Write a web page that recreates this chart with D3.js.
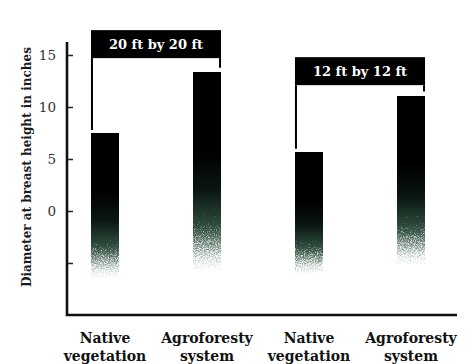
<!DOCTYPE html>
<html><head><meta charset="utf-8">
<script src="https://cdn.jsdelivr.net/npm/d3@7"></script>
<style>body{margin:0;background:#fff}svg{display:block}</style>
</head><body>
<svg id="c" width="465" height="364"></svg>
<script>
const categories = ["Native\nvegetation", "Agroforesty\nsystem", "Native\nvegetation", "Agroforesty\nsystem"];
const barTops = [7.5, 13.4, 5.7, 11.1];
const barBases = [-6.4, -5.6, -6.0, -5.1];
const groupLabels = ["20 ft by 20 ft", "12 ft by 12 ft"];
const groupBars = [[0, 1], [2, 3]];
const groupLevels = [14.7, 12.1];
const yTicks = [15, 10, 5, 0, -5];
const yTickLabels = ["15", "10", "5", "0", ""];
const yTitle = "Diameter at breast height in inches";

const svg = d3.select("#c");
const serif = "'DejaVu Serif', 'Liberation Serif', serif";
const y = d3.scaleLinear().domain([-10, 16.25]).range([315, 42]);
const x = d3.scaleBand().domain(d3.range(categories.length)).range([54, 462]).paddingInner(0.725).paddingOuter(0.3625);

const defs = svg.append("defs");
const g = defs.append("linearGradient").attr("id","fade").attr("x1",0).attr("y1",0).attr("x2",0).attr("y2",1);
[[0,"#000",1],[0.4,"#000",1],[0.6,"#0a1610",0.92],[0.76,"#2a4638",0.72],[0.9,"#5e7a6c",0.5],[1,"#a0b4aa",0.3]].forEach(s=>
  g.append("stop").attr("offset",s[0]).attr("stop-color",s[1]).attr("stop-opacity",s[2]));
const f = defs.append("filter").attr("id","grain").attr("x",0).attr("y",0).attr("width",1).attr("height",1)
  .attr("color-interpolation-filters","sRGB");
f.append("feTurbulence").attr("type","fractalNoise").attr("baseFrequency",0.85).attr("numOctaves",2).attr("seed",5).attr("result","n");
f.append("feColorMatrix").attr("in","n").attr("type","matrix")
  .attr("values","0 0 0 0 0  0 0 0 0 0  0 0 0 0 0  1 0 0 0 0").attr("result","na");
f.append("feComposite").attr("in","SourceAlpha").attr("in2","na").attr("operator","arithmetic")
  .attr("k1",0).attr("k2",1).attr("k3",0.8).attr("k4",-0.4).attr("result","sum");
f.append("feComponentTransfer").attr("in","sum").attr("result","th")
  .append("feFuncA").attr("type","linear").attr("slope",3).attr("intercept",-0.9);
f.append("feComposite").attr("in","SourceGraphic").attr("in2","th").attr("operator","in").attr("result","col");
f.append("feComponentTransfer").attr("in","col").append("feFuncA").attr("type","linear").attr("slope",1.6).attr("intercept",0);

// bars
svg.append("g").selectAll("rect").data(barTops).join("rect")
  .attr("x",(d,i)=>x(i)).attr("width",x.bandwidth())
  .attr("y",d=>Math.round(y(d))).attr("height",(d,i)=>y(barBases[i])-Math.round(y(d)))
  .attr("fill","url(#fade)").attr("filter","url(#grain)");

// axes
const yAxis = d3.axisRight(y).tickValues(yTicks).tickSize(6).tickFormat((d,i)=>yTickLabels[i]);
const ya = svg.append("g").attr("transform","translate(67,0)").call(yAxis);
ya.select(".domain").remove();
ya.selectAll(".tick line").attr("stroke","#222").attr("stroke-width",1.5);
ya.selectAll(".tick text").attr("x",-11).attr("text-anchor","end").attr("dy","0.36em")
  .attr("font-family",serif).attr("font-size",13.5).attr("fill","#333");
svg.append("path").attr("d",`M67,${y(16.25)}V${y(-10)}H457`).attr("fill","none").attr("stroke","#111").attr("stroke-width",2.6);

// y title
svg.append("text").attr("transform",`translate(31,167) rotate(-90)`).attr("text-anchor","middle")
  .attr("font-family",serif).attr("font-size",12.6).attr("font-weight","bold").attr("fill","#1a1a1a")
  .attr("textLength",240).attr("lengthAdjust","spacingAndGlyphs").text(yTitle);

// category labels
categories.forEach((c,i)=>{
  const t = svg.append("text").attr("text-anchor","middle").attr("font-family",serif)
    .attr("font-size",14).attr("font-weight","bold").attr("fill","#111");
  c.split("\n").forEach((ln,k)=>t.append("tspan").attr("x",x(i)+x.bandwidth()/2).attr("y",343+k*18).text(ln));
});

// group brackets
groupLabels.forEach((lab,gi)=>{
  const [a,b] = groupBars[gi];
  const x0 = x(a), x1 = x(b)+x.bandwidth();
  const by = y(groupLevels[gi]);
  svg.append("path").attr("d",`M${x0+1},${y(barTops[a])-3}V${by}M${x1-1},${y(barTops[b])-4}V${by}`)
    .attr("stroke","#000").attr("stroke-width",2).attr("fill","none");
  svg.append("rect").attr("x",x0).attr("y",by-28).attr("width",x1-x0).attr("height",28).attr("fill","#000");
  svg.append("text").attr("x",(x0+x1)/2).attr("y",by-9).attr("text-anchor","middle").attr("font-family",serif)
    .attr("font-size",13).attr("font-weight","bold").attr("fill","#fff").text(lab);
});
</script>
</body></html>
